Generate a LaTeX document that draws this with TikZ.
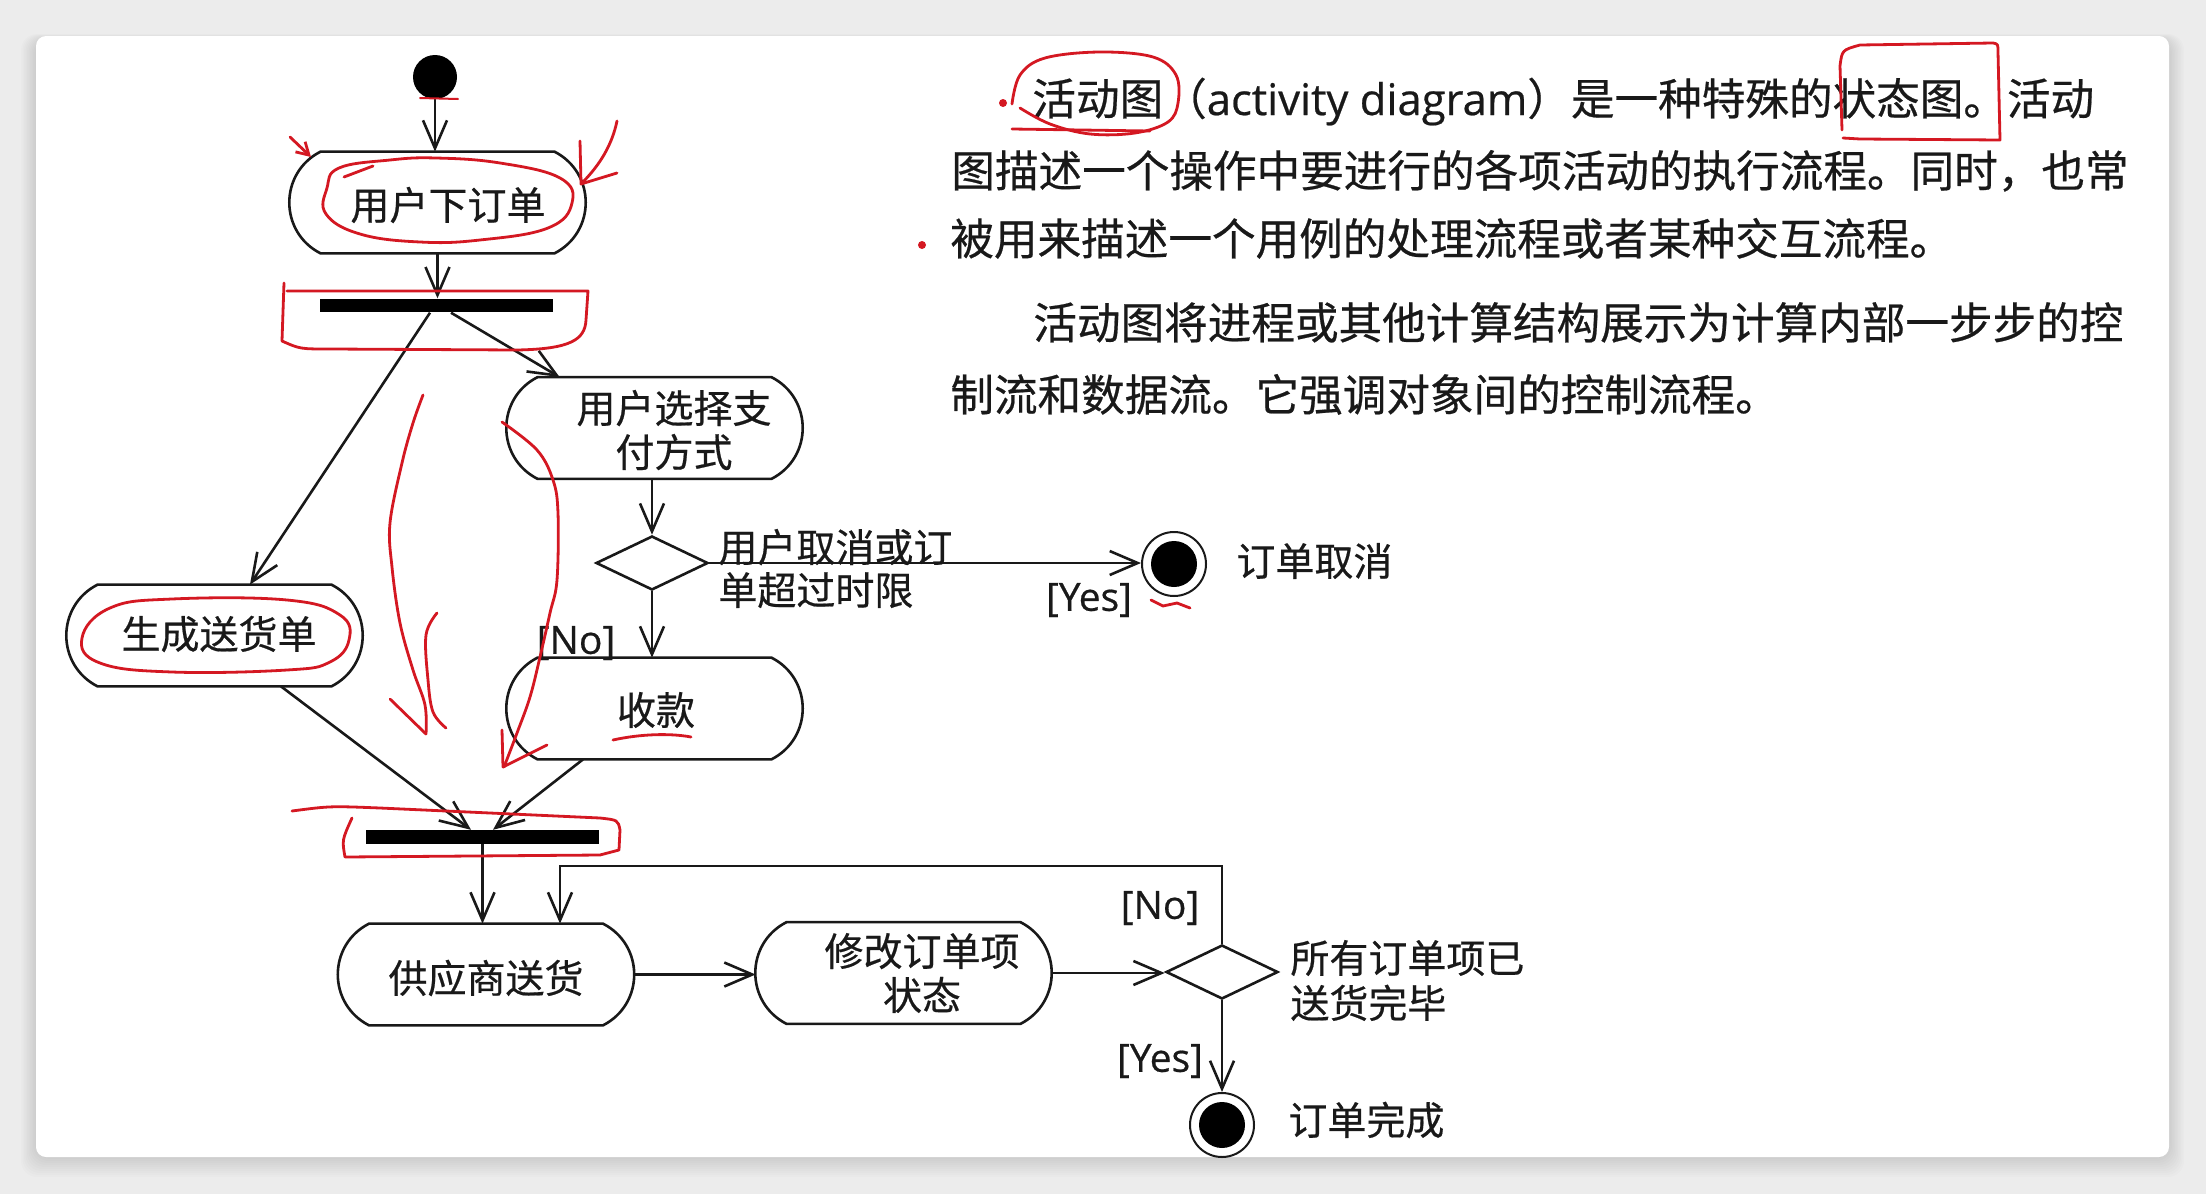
\documentclass[tikz,border=0pt]{standalone}
\usepackage{fontspec}
\setmainfont{Noto Sans CJK SC}[FakeBold=0.5]
\newfontfamily\latinfnt{Open Sans}[FakeBold=0.5]
\usetikzlibrary{arrows.meta,shapes.geometric}
\definecolor{pen}{RGB}{212,24,34}
\definecolor{bgc}{RGB}{236,236,236}
\definecolor{ink}{RGB}{25,25,25}
\newcommand\dfont{\fontsize{19.5pt}{22pt}\selectfont}
\newcommand\pfont{\fontsize{21.8pt}{26pt}\selectfont}
\newcommand\actbox[3]{%
  \node[box] (#1) at (#2,#3) {};
  \draw[ln] ([xshift=15.5pt]#1.north west) -- ([xshift=-15.5pt]#1.north east)
    to[bend left=63, looseness=1.18] ([xshift=-15.5pt]#1.south east)
    -- ([xshift=15.5pt]#1.south west)
    to[bend left=63, looseness=1.18] ([xshift=15.5pt]#1.north west) -- cycle;}
\begin{document}
\begin{tikzpicture}[x=0.5pt,y=-0.5pt,
  ln/.style={line width=1.3pt, draw=ink},
  flow/.style={ln, -{Straight Barb[length=14pt,width=12pt]}},
  box/.style={draw=none, minimum width=147.5pt, minimum height=50.5pt, inner sep=0},
  dtxt/.style={font=\dfont, text=ink, inner sep=0, align=center},
  ltxt/.style={font=\dfont\latinfnt, text=ink, inner sep=0},
  ptxt/.style={font=\pfont, text=ink, inner sep=0, anchor=base west},
  bar/.style={fill=black, minimum width=116.5pt, minimum height=6.8pt, inner sep=0},
  dec/.style={diamond, ln, minimum width=56pt, minimum height=27pt, inner sep=0},
  fin/.style={circle, draw=ink, line width=1pt, minimum size=32pt, inner sep=0,
    path picture={\fill[black] (path picture bounding box.center) circle (11.5pt);}},
  redpen/.style={draw=pen, line width=1.4pt, line cap=round, line join=round}]
\useasboundingbox (0,0) rectangle (2206,1194);
% background and card
\fill[bgc] (0,0) rectangle (2206,1194);
\foreach \i in {1,...,10}
  \fill[black, opacity=0.012, rounded corners=8pt] (36-1.5*\i,36-0.5*\i+3) rectangle (2169+1.5*\i,1157+2*\i);
\fill[white, rounded corners=5pt] (36,36) rectangle (2169,1157);

% ---------- diagram ----------
\node[circle, fill=black, minimum size=22pt, inner sep=0] (s) at (435,77) {};
\actbox{n1}{437.5}{202.5}
\node[dtxt] (t1) at (448,205) {用户下订单};
\node[bar] (b1) at (436.5,305.5) {};
\actbox{n2}{654.5}{428}
\node[dtxt] (t2) at (674,430) {用户选择支\\付方式};
\actbox{n3}{214.5}{635.5}
\node[dtxt] (t3) at (219,634) {生成送货单};
\node[dec] (d1) at (652,563) {};
\actbox{n4}{654.5}{708.5}
\node[dtxt] (t4) at (656,710) {收款};
\node[fin] (e1) at (1174,564) {};
\node[bar] (b2) at (482.5,837) {};
\actbox{n5}{486}{974.5}
\node[dtxt] (t5) at (486,978) {供应商送货};
\actbox{n6}{903.5}{973}
\node[dtxt] (t6) at (922,973) {修改订单项\\状态};
\node[dec] (d2) at (1222,972) {};
\node[fin] (e2) at (1222,1125) {};
\coordinate (c1) at (560,866);

% connectors
\draw[flow] (s.south) -- (s.south |- n1.north);
\draw[flow] (n1.south) -- (n1.south |- b1.north);
\draw[flow] ([xshift=7.25pt]b1.south) -- ([xshift=26.5pt]n2.north west);
\draw[flow] ([xshift=-3.25pt]b1.south) -- ([xshift=17.75pt]n3.north);
\draw[flow] (d1.north |- n2.south) -- (d1.north);
\draw[flow] (d1.south) -- (d1.south |- n4.north);
\draw[flow] (d1.east) -- (d1.east -| e1.west);
\draw[flow] ([xshift=33.25pt]n3.south) -- ([xshift=-5.75pt]b2.north);
\draw[flow] ([xshift=-35.75pt]n4.south) -- ([xshift=5.25pt]b2.north);
\draw[flow] (b2.south) -- (b2.south |- n5.north);
\draw[flow] (d2.north) |- (c1) -- (c1 |- n5.north);
\draw[flow] (n5.east) -- (n5.east -| n6.west);
\draw[flow] (n6.east) -- (n6.east -| d2.west);
\draw[flow] (d2.south) -- (e2.north);

% labels
\node[ltxt] (l1) at (576,643) {[No]};
\node[dtxt, align=left, anchor=west, font=\fontsize{19.5pt}{21.5pt}\selectfont] (l2) at (718,568.5) {用户取消或订\\单超过时限};
\node[ltxt] (l3) at (1089,600) {[Yes]};
\node[dtxt, anchor=west] (l4) at (1236,561) {订单取消};
\node[ltxt] (l5) at (1160,908) {[No]};
\node[dtxt, align=left, anchor=west, font=\fontsize{19.5pt}{22.5pt}\selectfont] (l6) at (1290,980.5) {所有订单项已\\送货完毕};
\node[ltxt] (l7) at (1160,1061) {[Yes]};
\node[dtxt, anchor=west] (l8) at (1288,1120) {订单完成};

% ---------- paragraph ----------
\node[ptxt] (p1) at (1032,115) {活动图（{\latinfnt activity diagram}）是一种特殊的状态图。活动};
\node[ptxt] (p2) at (951,187) {图描述一个操作中要进行的各项活动的执行流程。同时，也常};
\node[ptxt] (p3) at (950,255) {被用来描述一个用例的处理流程或者某种交互流程。};
\node[ptxt] (p4) at (1033,339) {活动图将进程或其他计算结构展示为计算内部一步步的控};
\node[ptxt] (p5) at (950,411) {制流和数据流。它强调对象间的控制流程。};

% ---------- red annotations ----------
% around start circle
\draw[redpen, line width=1pt] (420,98) -- (458,99);
% ellipse around node 1 text
\draw[redpen] plot[smooth cycle, tension=0.7] coordinates {(339,168) (390,160) (436,158) (500,163) (560,178) (572,203) (548,228) (480,240) (420,242) (360,234) (326,214) (327,188)};
\draw[redpen] (344,177) -- (373,166);
% small arrow left of node 1
\draw[redpen, -{Straight Barb[length=6pt,width=7pt]}] (290,137) -- (311,157);
% arrow right of node 1
\draw[redpen] (617,121) .. controls (612,145) and (600,165) .. (581,184);
\draw[redpen] (580,141) -- (581,184) -- (617,173);
% box around fork bar 1
\draw[redpen] (284,283) -- (282,341) .. controls (300,349) .. (330,349) -- (517,350) .. controls (570,349) and (585,340) .. (586,320) -- (588,291) -- (287,291);
% ellipse around node 3 text
\draw[redpen] plot[smooth cycle, tension=0.7] coordinates {(82,638) (110,608) (172,599) (287,600) (340,615) (349,640) (330,662) (287,670) (172,672) (100,663)};
% left long arrow
\draw[redpen] plot[smooth, tension=0.6] coordinates {(423,395) (413,423) (402,463) (390,523) (392,567) (400,623) (413,670) (425,705) (426,734)};
\draw[redpen] plot[smooth, tension=0.6] coordinates {(437,613) (426,635) (428,680) (433,712) (446,728)};
\draw[redpen] (390,699) -- (426,734);
% right long arrow
\draw[redpen] plot[smooth, tension=0.6] coordinates {(502,422) (537,450) (553,480) (558,513) (557,580) (550,613) (540,657) (530,697) (517,733) (504,767)};
\draw[redpen] (502,730) -- (503,767) -- (547,745);
% underline of 收款
\draw[redpen] (613,740) .. controls (640,734) and (670,733) .. (691,737);
% under cancel end node
\draw[redpen] (1151,600) -- (1163,606) -- (1177,603) -- (1190,608);
% box around join bar 2
\draw[redpen] (292,811) .. controls (330,806) .. (380,808) -- (600,818) .. controls (618,820) .. (620,830) -- (619,850) -- (600,855) -- (345,857) .. controls (342,840) .. (352,818);
% around 活动图 in text
\draw[redpen] plot[smooth, tension=0.6] coordinates {(1012,104) (1020,75) (1045,58) (1100,52) (1153,57) (1176,75) (1178,103) (1168,122) (1135,133) (1090,134) (1050,124) (1020,108)};
\draw[redpen] (1012,129) -- (1150,131);
\fill[pen] (1003,103) circle (2pt);
% box around 状态图。
\draw[redpen] (1842,130) -- (1840,66) .. controls (1842,50) .. (1860,45) -- (1993,43) .. controls (1998,44) .. (1998,52) -- (2000,140) -- (1860,139) -- (1843,138);
% dot
\fill[pen] (922,245) circle (2pt);
\end{tikzpicture}
\end{document}
